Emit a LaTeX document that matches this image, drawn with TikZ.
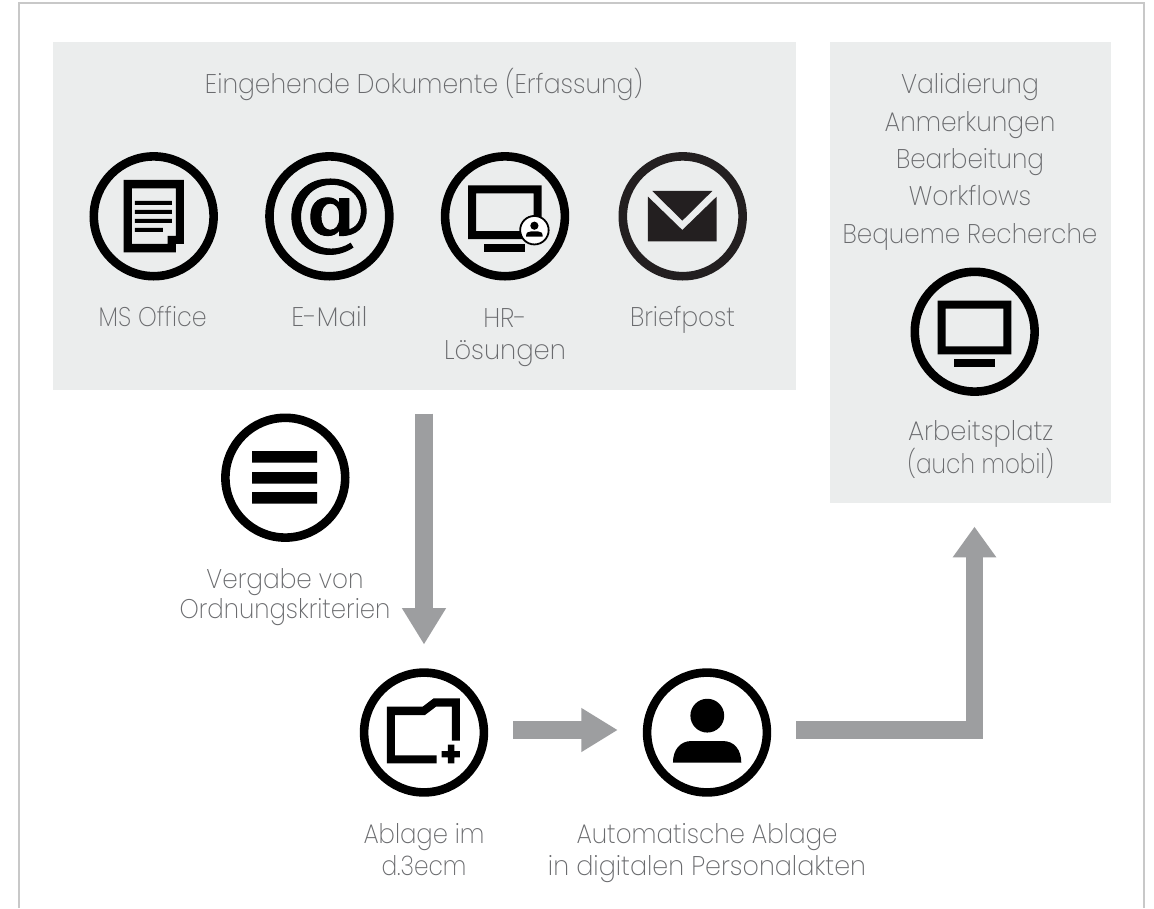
\documentclass[tikz,border=0pt]{standalone}
\usepackage{fontspec}
\usepackage{graphicx}
\setmainfont{Poppins}[UprightFont=* ExtraLight]
\newfontfamily\atfont{DejaVu Serif}[UprightFont=* Bold,FakeBold=1.2]
\usetikzlibrary{arrows.meta}
\definecolor{panel}{HTML}{EBEDED}
\definecolor{flowgray}{HTML}{9D9EA0}
\definecolor{labelgray}{HTML}{6A6B6E}
\definecolor{framegray}{HTML}{C8C8C8}
\definecolor{nearblack}{HTML}{231F20}
\newcommand{\fit}[2]{\resizebox{#1pt}{\height}{#2}}
\tikzset{
  x=1pt,y=-1pt,
  panelbox/.style={fill=panel,draw=none,inner sep=0pt,anchor=north west},
  ring/.style={circle,draw=black,line width=8.6pt,minimum size=119.8pt,inner sep=0pt},
  lbl/.style={text=labelgray,anchor=base,inner sep=0pt,align=center,font=\fontsize{27}{#1}\selectfont},
  lbl/.default=32,
  flow/.style={draw=flowgray,line width=17.6pt,-{Triangle[width=41.5pt,length=36.5pt]},line join=miter},
  pics/monitorglyph/.style={code={
    \fill[black,even odd rule] (-37,-31) rectangle (36.7,22.7) (-29,-23) rectangle (28.7,14.7);
    \fill[black] (-20.7,27.3) rectangle (20.3,35.3);
  }}
}
\begin{document}
\begin{tikzpicture}
\useasboundingbox (0,0) rectangle (1154,908);
\fill[white] (0,0) rectangle (1154,908);
% frame
\draw[framegray,line width=2pt] (19,908) -- (19,3) -- (1144,3) -- (1144,908);
% panels
\node[panelbox,minimum width=743pt,minimum height=348pt] (inbox) at (53,42) {};
\node[panelbox,minimum width=281pt,minimum height=460.7pt] (workbox) at (830,42) {};
% title and labels
\node[lbl] (title) at (424,93.5) {\fit{438}{Eingehende Dokumente (Erfassung)}};
% rings
\node[ring] (office) at (153.7,216.3) {};
\node[ring] (email) at (329.4,216.3) {};
\node[ring] (hr) at (505,216.3) {};
\node[ring,draw=nearblack] (post) at (682.7,216.3) {};
\node[ring] (desk) at (974.7,331.7) {};
\node[ring] (menu) at (285.3,477.7) {};
\node[ring] (folder) at (424,732.5) {};
\node[ring] (person) at (707,732.5) {};
% office glyph
\begin{scope}[shift={(60,130)},x=0.3333pt,y=-0.3333pt]
\fill[black,even odd rule] (191,150) -- (372,150) -- (372,342) -- (348,342) -- (348,367) -- (191,367) -- cycle
  (216,175) -- (348,175) -- (348,318) -- (323,318) -- (323,342) -- (216,342) -- cycle;
\fill[black] (225,213) rectangle (336,225) (225,240) rectangle (336,252) (225,267) rectangle (336,279) (225,294) rectangle (309,306);
\end{scope}
% at glyph
\node[inner sep=0pt] (atsign) at (329.2,216.7) {\resizebox{86pt}{!}{\atfont @}};
% monitors
\pic at (hr.center) {monitorglyph};
\pic at (desk.center) {monitorglyph};
\node[circle,fill=white,draw=black,line width=1.8pt,minimum size=28.5pt,inner sep=0pt] (badge) at (534.4,230.2) {};
\fill[black] (534.4,225.7) circle (4.1);
\fill[black] (526,236.7) .. controls (526,232.5) and (528,231.4) .. (531,231.4) -- (538,231.4) .. controls (541,231.4) and (542.7,232.5) .. (542.7,236.7) -- cycle;
% envelope
\begin{scope}[shift={(420,130)},x=0.3333pt,y=-0.3333pt]
\fill[nearblack] (697,183) -- (877,183) -- (787,272) -- cycle;
\fill[nearblack] (684,200) -- (787,300) -- (890,200) -- (890,334) -- (684,334) -- cycle;
\end{scope}
% menu glyph
\fill[black] (252,451) rectangle (317,462.7) (252,472) rectangle (317,483.7) (252,492) rectangle (317,503.7);
% folder glyph
\begin{scope}[shift={(340,650)},x=0.3333pt,y=-0.3333pt]
\fill[black] (141,170) -- (248,170) -- (281,145) -- (360,145) -- (360,272) -- (336,272) -- (336,170) -- (288,170) -- (255,195) -- (165,195) -- (165,316) -- (290,316) -- (290,340) -- (141,340) -- cycle;
\fill[black] (305,303) rectangle (360,322) (324,284) rectangle (343,340);
\end{scope}
% person glyph
\begin{scope}[shift={(340,650)},x=0.3333pt,y=-0.3333pt]
\fill[black] (1102,197) circle (16.9pt);
\fill[black] (999,338) .. controls (999,300) and (1020,273) .. (1055,273) -- (1148,273) .. controls (1184,273) and (1204,300) .. (1204,338) -- cycle;
\end{scope}
% labels (a multi-line node's base is its last line)
\node[lbl] (lof) at (152.7,326.7) {\fit{108}{MS Office}};
\node[lbl] (lem) at (329.3,326.7) {\fit{76}{E-Mail}};
\node[lbl] (lhr) at (505,359) {\fit{43.4}{HR-}\\\fit{122}{Lösungen}};
\node[lbl] (lpo) at (682.5,326.7) {\fit{105}{Briefpost}};
\node[lbl=37.4] (lwork) at (970,243.3) {\fit{137.7}{Validierung}\\\fit{170.7}{Anmerkungen}\\\fit{148}{Bearbeitung}\\\fit{122.3}{Workflows}\\\fit{254.7}{Bequeme Recherche}};
\node[lbl] (ldesk) at (980.7,473.3) {\fit{145.3}{Arbeitsplatz}\\\fit{146.7}{(auch mobil)}};
\node[lbl=30.5] (lmenu) at (285,618.5) {\fit{157}{Vergabe von}\\\fit{210.7}{Ordnungskriterien}};
\node[lbl] (lfolder) at (424,875) {\fit{121}{Ablage im}\\\fit{85}{d.3ecm}};
\node[lbl] (lperson) at (707,875) {\fit{261}{Automatische Ablage}\\\fit{318}{in digitalen Personalakten}};
% connectors
\coordinate (upend) at (974.5,502.7);
\draw[flow,shorten <=23.3pt,shorten >=23.7pt] (inbox.south -| folder.north) -- (folder.north);
\draw[flow,shorten <=25pt,shorten >=25pt] ([yshift=2.5pt]folder.east) -- ([yshift=2.5pt]person.west);
\draw[flow,-{Triangle[width=41.5pt,length=30.6pt]},shorten <=25pt,shorten >=24pt] ([yshift=2.5pt]person.east) -| (upend);
\end{tikzpicture}
\end{document}
